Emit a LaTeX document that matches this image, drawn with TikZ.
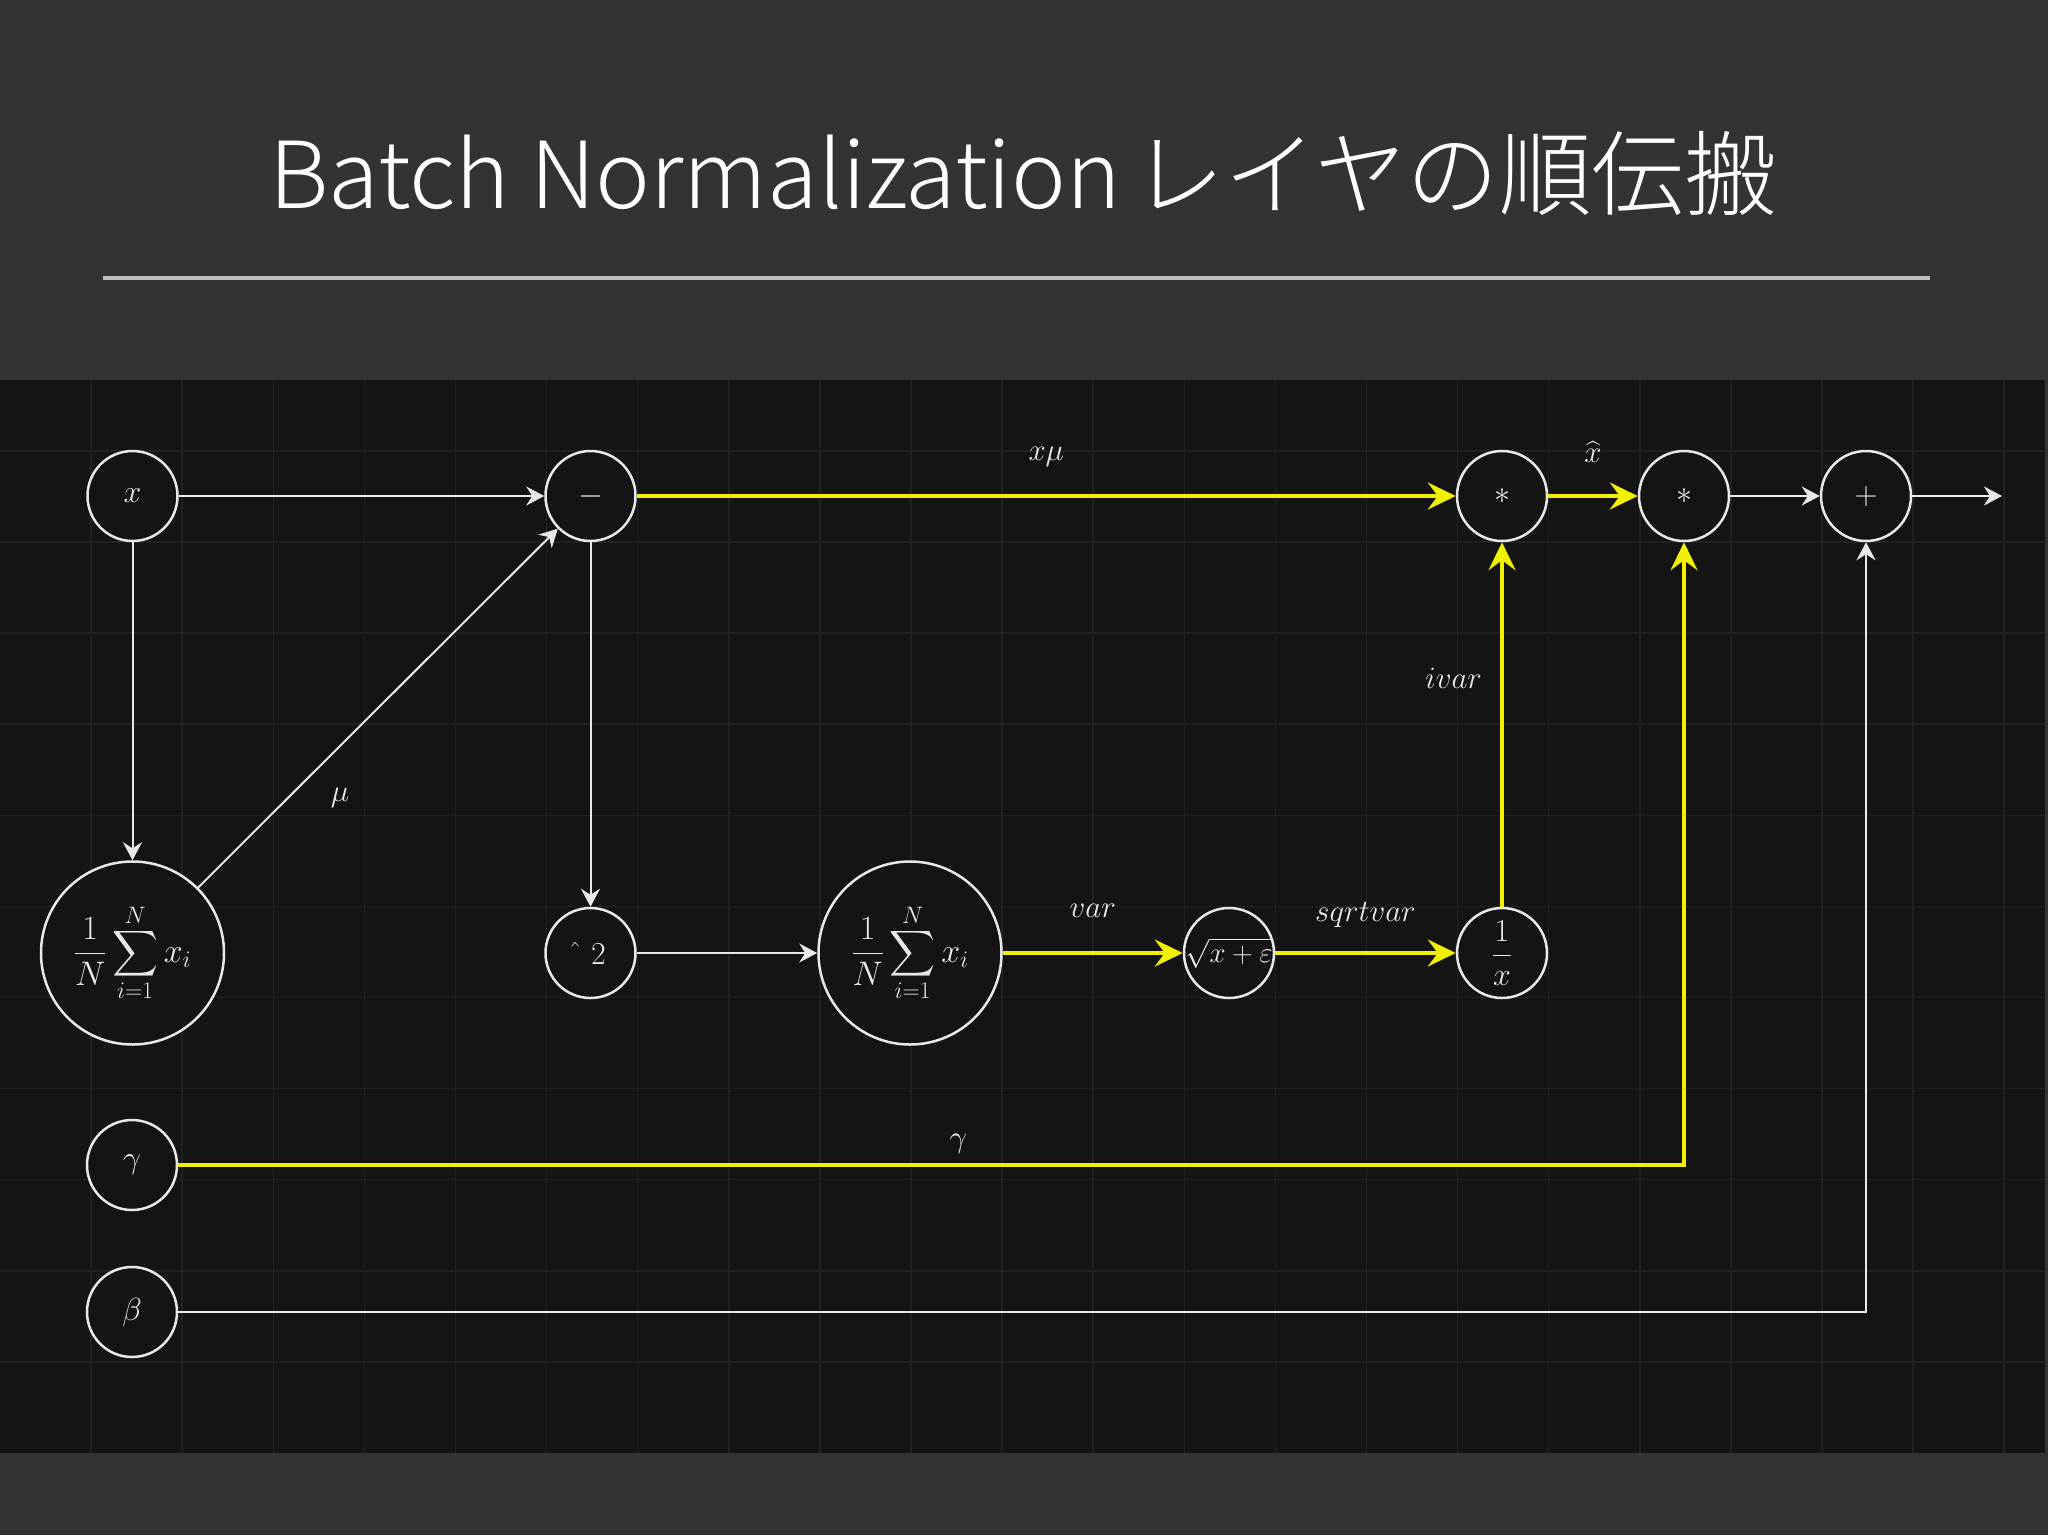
\RequirePackage{fix-cm}
\documentclass[tikz,border=0pt]{standalone}
\usepackage{amsmath}
\usepackage{exscale}
\usepackage{graphicx}
\usepackage{fontspec}
\IfFontExistsTF{Noto Sans CJK JP Light}{\newfontfamily\cjk{Noto Sans CJK JP Light}}{\newfontfamily\cjk{Noto Sans CJK JP}}
\usetikzlibrary{arrows.meta}
\definecolor{topbg}{RGB}{51,51,51}
\definecolor{darkbg}{RGB}{20,20,21}
\definecolor{gridc}{RGB}{33,33,34}
\definecolor{linec}{RGB}{232,232,232}
\definecolor{rulec}{RGB}{190,190,190}
\definecolor{yel}{RGB}{240,240,0}
\newcommand{\mybigsum}{\mathop{\vcenter{\hbox{\scalebox{1.28}{$\displaystyle\sum$}}}}\limits}
\begin{document}
\begin{tikzpicture}[x=1pt,y=-1pt,
  opnode/.style={circle, draw=linec, line width=2.5pt, fill=darkbg, text=linec, minimum size=90pt, inner sep=0pt, font=\fontsize{32}{38}\selectfont},
  bignode/.style={opnode, minimum size=183pt, font=\fontsize{34}{40}\selectfont},
  wline/.style={draw=linec, line width=2pt, -{Stealth[length=18pt,width=19pt,inset=6pt]}},
  yline/.style={draw=yel, line width=4pt, -{Stealth[length=28pt,width=27pt,inset=10pt]}},
  lbl/.style={text=linec, inner sep=0pt, font=\fontsize{31}{36}\selectfont},
  gridline/.style={draw=gridc, line width=1.5pt}
]
\useasboundingbox (0,0) rectangle (2048,1535);
\fill[topbg] (0,0) rectangle (2048,1535);
\fill[darkbg] (0,380) rectangle (2045,1453);
\foreach \k in {1,...,22} \draw[gridline] (91.1*\k,380) -- (91.1*\k,1453);
\foreach \k in {4,...,14} \draw[gridline] (0,86.5+91.1*\k) -- (2045,86.5+91.1*\k);

% title
\node[anchor=base, text=white, inner sep=0pt, font=\cjk\fontsize{92.5}{100}\selectfont] (title) at (1023,208) {Batch Normalization\hspace{0.12em}レイヤの順伝搬};
\draw[rulec, line width=3.5pt] (103,278) -- (1930,278);

% nodes
\node[opnode] (x) at (132.5,496) {$x$};
\node[opnode] (minus) at (590.5,496) {$-$};
\node[bignode] (sum1) at (132.5,953) {$\displaystyle\frac{1}{N}\mybigsum_{i=1}^{N}x_i$};
\node[opnode] (sq) at (590.5,953) {$\hat{}\hspace{16pt}2$};
\node[bignode] (sum2) at (910,953) {$\displaystyle\frac{1}{N}\mybigsum_{i=1}^{N}x_i$};
\node[opnode, label={[text=linec, inner sep=0pt, font=\fontsize{29}{34}\selectfont]center:$\sqrt{x+\varepsilon}$}] (sqrt) at (1229,953) {};
\node[opnode] (inv) at (1502,953) {$\displaystyle\frac{1}{x}$};
\node[opnode] (m1) at (1502,496) {$*$};
\node[opnode] (m2) at (1684,496) {$*$};
\node[opnode] (plus) at (1866,496) {$+$};
\node[opnode] (gamma) at (132,1165) {$\gamma$};
\node[opnode] (beta) at (132,1312) {$\beta$};
\coordinate (out) at (2002,496);

% white connectors
\draw[wline] (x) -- (minus);
\draw[wline] (x) -- (sum1);
\draw[wline] (sum1) -- node[lbl, pos=0.325, anchor=base, xshift=25pt, yshift=-31pt] {$\mu$} (minus);
\draw[wline] (minus) -- (sq);
\draw[wline] (sq) -- (sum2);
\draw[wline] (m2) -- (plus);
\draw[wline] (plus) -- (out);
\draw[wline] (beta) -| (plus);

% yellow connectors
\draw[yline] (minus) -- node[lbl, midway, anchor=base, yshift=36pt] {$x\mu$} (m1);
\draw[yline] (sum2) -- node[lbl, midway, anchor=base, yshift=36pt] {$var$} (sqrt);
\draw[yline] (sqrt) -- node[lbl, midway, anchor=base, yshift=32pt] {$sqrtvar$} (inv);
\draw[yline] (inv) -- node[lbl, pos=0.6, anchor=base east, xshift=-18pt] {$ivar$} (m1);
\draw[yline] (m1) -- node[lbl, midway, anchor=base, yshift=34pt] {$\widehat{x}$} (m2);
\draw[yline] (gamma) -| node[lbl, pos=0.259, anchor=base, yshift=18pt] {$\gamma$} (m2);
\end{tikzpicture}
\end{document}
